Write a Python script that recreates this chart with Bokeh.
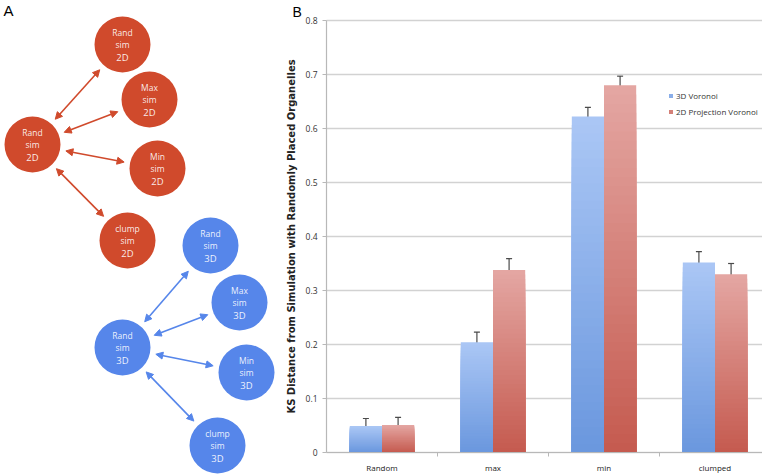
import numpy as np
from bokeh.plotting import figure
from bokeh.layouts import row
from bokeh.models import (ColumnDataSource, Range1d, FixedTicker, NumeralTickFormatter,
                          Arrow, NormalHead, Whisker, TeeHead, Label, Legend, LegendItem)
from bokeh.embed import file_html
from bokeh.resources import INLINE
from bokeh.core.properties import value

# ---------------- Panel A data (diagram) ----------------
red_x = [32, 122, 149, 157, 127]
red_y = [144, 44, 99, 168, 240]
red_line1 = ["Rand", "Rand", "Max", "Min", "clump"]
red_line3 = ["2D", "2D", "2D", "2D", "2D"]
blue_x = [122, 210, 239, 246, 217]
blue_y = [347, 245, 302, 372, 445]
blue_line1 = ["Rand", "Rand", "Max", "Min", "clump"]
blue_line3 = ["3D", "3D", "3D", "3D", "3D"]
line2 = "sim"
hub_links = [1, 2, 3, 4]   # hub node 0 linked to these

# ---------------- Panel B data (bar chart) ----------------
categories = ["Random", "max", "min", "clumped"]
vor3d = [0.049, 0.204, 0.622, 0.352]
vor3d_err = [0.014, 0.019, 0.017, 0.020]
vor2d = [0.051, 0.338, 0.680, 0.330]
vor2d_err = [0.014, 0.021, 0.017, 0.020]
series_names = ["3D Voronoi", "2D Projection Voronoi"]
y_ticks = [0.0, 0.1, 0.2, 0.3, 0.4, 0.5, 0.6, 0.7, 0.8]
y_label = "KS Distance from Simulation with Randomly Placed Organelles"

FONT = "Open Sans"
FONT_VAL = value(FONT)
RED = "#d04a2c"
BLUE = "#5686ea"

W_A = 278
H = 476

# ================= Panel A =================
pa = figure(width=W_A, height=H, x_range=Range1d(0, W_A), y_range=Range1d(H, 0),
            output_backend="svg", toolbar_location=None, min_border=0)
pa.axis.visible = False
pa.grid.visible = False
pa.outline_line_color = None

R = 28
GAP = 6


def draw_group(p, xs, ys, l1, l3, color):
    p.circle(xs, ys, radius=R, fill_color=color, line_color=None)
    x0s, y0s, x1s, y1s = [], [], [], []
    for j in hub_links:
        dx, dy = xs[j] - xs[0], ys[j] - ys[0]
        d = np.hypot(dx, dy)
        ux, uy = dx / d, dy / d
        x0s.append(xs[0] + ux * (R + GAP)); y0s.append(ys[0] + uy * (R + GAP))
        x1s.append(xs[j] - ux * (R + GAP)); y1s.append(ys[j] - uy * (R + GAP))
    src = ColumnDataSource(dict(x0=x0s, y0=y0s, x1=x1s, y1=y1s))
    p.add_layout(Arrow(start=NormalHead(size=7, fill_color=color, line_color=color),
                       end=NormalHead(size=7, fill_color=color, line_color=color),
                       x_start="x0", y_start="y0", x_end="x1", y_end="y1",
                       source=src, line_color=color, line_width=1.6))
    ys_arr = np.array(ys, dtype=float)
    p.text(xs, list(ys_arr - 12), text=l1, text_color="white", text_alpha=0.9,
           text_font=FONT_VAL, text_font_size="8.5px", text_align="center", text_baseline="middle")
    p.text(xs, list(ys_arr), text=[line2] * len(xs), text_color="white", text_alpha=0.9,
           text_font=FONT_VAL, text_font_size="8.5px", text_align="center", text_baseline="middle")
    p.text(xs, list(ys_arr + 13), text=l3, text_color="white", text_alpha=0.9,
           text_font=FONT_VAL, text_font_size="9.5px", text_align="center", text_baseline="middle")


draw_group(pa, red_x, red_y, red_line1, red_line3, RED)
draw_group(pa, blue_x, blue_y, blue_line1, blue_line3, BLUE)
pa.add_layout(Label(x=3, y=1, text="A", text_font="Liberation Sans",
                    text_font_size="15px", text_color="black", text_baseline="top"))

# ================= Panel B =================
# The frame fills the whole canvas; both axes are pinned (fixed_location) so
# that the y-axis labels and the panel letter live inside the frame.
FRAME_AXIS_X = 326    # page x of the y axis
CAT_PX = 111          # px per category
PX_PER_UNIT = 540.0   # vertical px per KS unit
TOP_PAD = 20          # px above the 0.8 line
BOTTOM_PAD = 24       # px below the 0 line
W_B = 762 - W_A
X_START = -(FRAME_AXIS_X - W_A) / CAT_PX
X_END = (762 - FRAME_AXIS_X) / CAT_PX
pb = figure(width=W_B, height=H,
            x_range=Range1d(X_START, X_END),
            y_range=Range1d(-BOTTOM_PAD / PX_PER_UNIT, 0.8 + TOP_PAD / PX_PER_UNIT),
            output_backend="svg", toolbar_location=None, min_border=0)
pb.outline_line_color = None
pb.grid.visible = False

# horizontal gridlines from the axis to the right edge
pb.segment(x0=[0] * len(y_ticks), y0=y_ticks, x1=[X_END] * len(y_ticks), y1=y_ticks,
           line_color="#d2d2d2", line_width=1.5)


def hex2rgb(h):
    h = h.lstrip("#")
    return np.array([int(h[i:i + 2], 16) for i in (0, 2, 4)], dtype=float)


def blend(c_top, c_bot, t):
    a, b = hex2rgb(c_top), hex2rgb(c_bot)
    c = a * (1 - t) + b * t
    return "#%02x%02x%02x" % tuple(int(round(v)) for v in c)


NSLICE = 40
WIDTH = 0.29
series = [
    (vor3d, vor3d_err, 0.355, "#abc7f5", "#6a97de"),
    (vor2d, vor2d_err, 0.645, "#e4a7a3", "#c55a4f"),
]
legend_items = []
for (vals, errs, off, ctop, cbot), name in zip(series, series_names):
    xs, tops, cols = [], [], []
    for i, v in enumerate(vals):
        # tallest (lightest) first, shorter ones painted over it -> no seams
        for k in range(NSLICE - 1, -1, -1):
            xs.append(i + off)
            tops.append(v * (k + 1) / NSLICE)
            cols.append(blend(ctop, cbot, 1 - (k + 0.5) / NSLICE))
    src = ColumnDataSource(dict(x=xs, top=tops, color=cols))
    r = pb.vbar(x="x", width=WIDTH, bottom=0, top="top", fill_color="color",
                line_color=None, source=src)
    legend_items.append(LegendItem(label=name, renderers=[r], index=NSLICE // 2))
    esrc = ColumnDataSource(dict(base=[i + off for i in range(len(vals))],
                                 upper=[v + e for v, e in zip(vals, errs)],
                                 lower=[v - e for v, e in zip(vals, errs)]))
    pb.add_layout(Whisker(base="base", upper="upper", lower="lower", source=esrc,
                          line_color="#4a4a4a", line_width=1.2,
                          upper_head=TeeHead(size=6, line_color="#4a4a4a", line_width=1.2),
                          lower_head=TeeHead(size=6, line_color="#4a4a4a", line_width=1.2)))

# x axis (sits on y = 0)
xax = pb.xaxis[0]
xax.fixed_location = 0
xax.bounds = (0, X_END)
xax.ticker = FixedTicker(ticks=[i + 0.5 for i in range(len(categories))],
                         minor_ticks=[i for i in range(1, len(categories))])
xax.major_label_overrides = {i + 0.5: c for i, c in enumerate(categories)}
xax.major_tick_out = 0
xax.major_tick_in = 0
xax.minor_tick_out = 4
xax.minor_tick_in = 0
xax.minor_tick_line_color = "#b8b8b8"
xax.axis_line_color = "#b8b8b8"
xax.axis_line_width = 1.2
xax.major_label_text_font = FONT
xax.major_label_text_font_size = "8px"
xax.major_label_text_color = "#222222"
xax.major_label_standoff = 5

# y axis (sits on x = 0)
yax = pb.yaxis[0]
yax.fixed_location = 0
yax.bounds = (0, 0.8)
yax.ticker = FixedTicker(ticks=y_ticks, minor_ticks=[])
yax.formatter = NumeralTickFormatter(format="0.[0]")
yax.major_tick_out = 4
yax.major_tick_in = 0
yax.major_tick_line_color = "#b8b8b8"
yax.axis_line_color = "#b8b8b8"
yax.axis_line_width = 1.2
yax.major_label_text_font = FONT
yax.major_label_text_font_size = "8.5px"
yax.major_label_text_color = "#333333"
yax.major_label_standoff = 5
yax.axis_label = y_label
yax.axis_label_text_font = "DejaVu Sans"
yax.axis_label_text_font_style = "bold"
yax.axis_label_text_font_size = "10px"
yax.axis_label_text_color = "#222222"
yax.axis_label_standoff = 6

legend = Legend(items=legend_items, location=(668 - W_A, H - 117), border_line_color=None,
                background_fill_alpha=0, padding=0, margin=0, spacing=4,
                label_height=12, glyph_width=5, glyph_height=5, label_standoff=3,
                label_text_font=FONT, label_text_font_size="8px", label_text_color="#333333")
pb.add_layout(legend)

# panel letter "B", just left of the y axis top
pb.add_layout(Label(x=-34 / CAT_PX, y=0.8 + (TOP_PAD - 3) / PX_PER_UNIT, text="B",
                    text_font="Liberation Sans", text_font_size="14px",
                    text_color="black", text_baseline="top"))

layout = row(pa, pb)
open("out.html", "w").write(file_html(layout, INLINE))
